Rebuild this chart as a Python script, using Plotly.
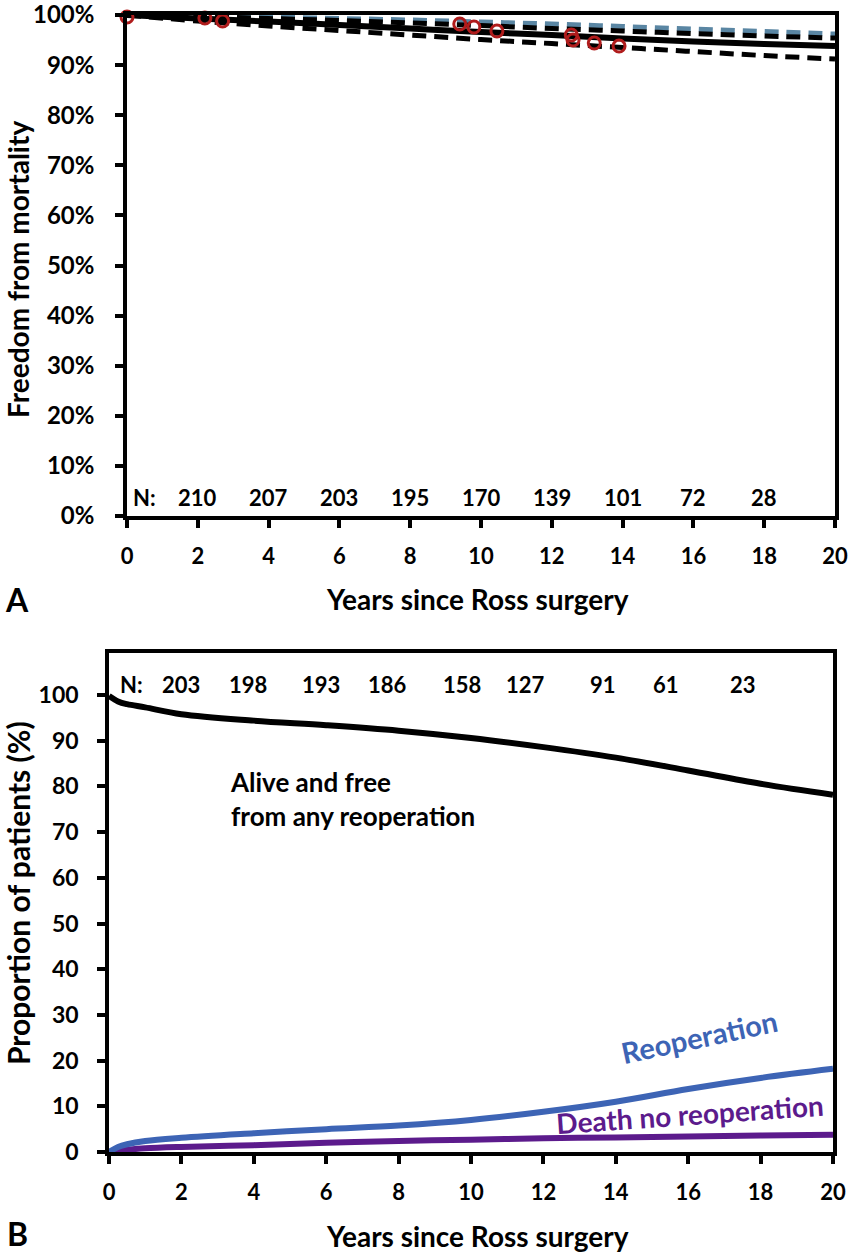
import plotly.graph_objects as go

W, H = 850, 1254
FONT = "Lato"

# ---------------- Panel A data ----------------
years_a = [0, 2, 4, 6, 8, 10, 12, 14, 16, 18, 20]
survival = [100, 99.3, 98.7, 98.0, 97.3, 96.6, 96.0, 95.3, 94.7, 94.2, 93.8]
ci_upper = [100, 99.7, 99.3, 98.9, 98.4, 97.9, 97.3, 96.8, 96.3, 95.8, 95.4]
ci_lower = [100, 98.8, 97.8, 96.9, 96.0, 95.1, 94.3, 93.5, 92.7, 91.9, 91.2]
general_pop = [100, 99.8, 99.6, 99.3, 99.0, 98.6, 98.2, 97.7, 97.2, 96.7, 96.2]
event_years = [0, 2.2, 2.7, 9.4, 9.8, 10.45, 12.55, 12.6, 13.2, 13.9]
event_surv = [99.6, 99.4, 98.8, 98.2, 97.6, 96.8, 96.0, 95.0, 94.4, 93.8]
n_years_a = [2, 4, 6, 8, 10, 12, 14, 16, 18]
n_at_risk_a = [210, 207, 203, 195, 170, 139, 101, 72, 28]
y_ticks_a = list(range(0, 101, 10))
y_ticklabels_a = [f"{v}%" for v in y_ticks_a]

# ---------------- Panel B data ----------------
years_b = [0, 0.25, 0.5, 1, 2, 4, 6, 8, 10, 12, 14, 16, 18, 20]
alive_free = [99.8, 98.6, 98.0, 97.3, 95.8, 94.4, 93.4, 92.2, 90.6, 88.6, 86.3, 83.5, 80.6, 78.2]
reoperation = [0, 1.1, 1.7, 2.4, 3.1, 4.1, 5.0, 5.8, 7.0, 8.8, 11.0, 13.8, 16.2, 18.2]
death_no_reop = [0, 0.3, 0.5, 0.8, 1.1, 1.5, 2.0, 2.4, 2.7, 3.0, 3.2, 3.4, 3.6, 3.8]
n_years_b = [1.98, 3.85, 5.85, 7.7, 9.75, 11.5, 13.65, 15.4, 17.5]
n_at_risk_b = [203, 198, 193, 186, 158, 127, 91, 61, 23]
y_ticks_b = list(range(0, 101, 10))

x_ticks = list(range(0, 21, 2))


def px_x(p):
    return p / W


def px_y(p):
    return 1 - p / H


fig = go.Figure()

DASH = "14px,8px"
# Panel A traces
fig.add_trace(go.Scatter(x=years_a, y=general_pop, mode="lines", line=dict(color="#5a86a3", width=5, dash=DASH, shape="spline"),
                         xaxis="x", yaxis="y", showlegend=False, cliponaxis=False))
fig.add_trace(go.Scatter(x=years_a, y=ci_upper, mode="lines", line=dict(color="black", width=5, dash=DASH, shape="spline"),
                         xaxis="x", yaxis="y", showlegend=False, cliponaxis=False))
fig.add_trace(go.Scatter(x=years_a, y=ci_lower, mode="lines", line=dict(color="black", width=5, dash=DASH, shape="spline"),
                         xaxis="x", yaxis="y", showlegend=False, cliponaxis=False))
fig.add_trace(go.Scatter(x=years_a, y=survival, mode="lines", line=dict(color="black", width=6, shape="spline"),
                         xaxis="x", yaxis="y", showlegend=False, cliponaxis=False))
fig.add_trace(go.Scatter(x=event_years, y=event_surv, mode="markers",
                         marker=dict(symbol="circle-open", size=12, color="#b01c1c", line=dict(width=3, color="#b01c1c")),
                         xaxis="x", yaxis="y", showlegend=False, cliponaxis=False))

# Panel B traces
fig.add_trace(go.Scatter(x=years_b, y=death_no_reop, mode="lines", line=dict(color="#5c1b8c", width=6, shape="spline"),
                         xaxis="x2", yaxis="y2", showlegend=False, cliponaxis=False))
fig.add_trace(go.Scatter(x=years_b, y=reoperation, mode="lines", line=dict(color="#3d64b5", width=6, shape="spline"),
                         xaxis="x2", yaxis="y2", showlegend=False, cliponaxis=False))
fig.add_trace(go.Scatter(x=years_b, y=alive_free, mode="lines", line=dict(color="black", width=6, shape="spline"),
                         xaxis="x2", yaxis="y2", showlegend=False, cliponaxis=False))

axis_common = dict(showline=True, linecolor="black", linewidth=3.5, mirror=True, ticks="outside",
                   ticklen=8, tickwidth=3.5, tickcolor="black", showgrid=False, zeroline=False,
                   automargin=False, ticklabeloverflow="allow")
x_tick_font = dict(family=FONT, size=22, color="black", weight="bold")
ya_tick_font = dict(family=FONT, size=24, color="black", weight="bold")
yb_tick_font = dict(family=FONT, size=23, color="black", weight="bold")

fig.update_layout(
    width=W, height=H,
    margin=dict(l=0, r=0, t=0, b=0),
    paper_bgcolor="white", plot_bgcolor="white",
    showlegend=False,
    xaxis=dict(domain=[px_x(127), px_x(835)], range=[0, 20], tickmode="array", tickvals=x_ticks,
               ticktext=[str(v) for v in x_ticks], anchor="y", tickfont=x_tick_font,
               ticklabelstandoff=10, **axis_common),
    yaxis=dict(domain=[px_y(516), px_y(15)], range=[0, 100], tickmode="array", tickvals=y_ticks_a,
               ticktext=y_ticklabels_a, anchor="x", tickfont=ya_tick_font, ticklabelstandoff=16, **axis_common),
    xaxis2=dict(domain=[px_x(109), px_x(833)], range=[0, 20], tickmode="array", tickvals=x_ticks,
                ticktext=[str(v) for v in x_ticks], anchor="y2", tickfont=x_tick_font,
                ticklabelstandoff=10, **axis_common),
    yaxis2=dict(domain=[px_y(1152), px_y(653)], range=[0, 109.2], tickmode="array", tickvals=y_ticks_b,
                ticktext=[str(v) for v in y_ticks_b], anchor="x2", tickfont=yb_tick_font,
                ticklabelstandoff=14, **axis_common),
)

annots = []
n_font = dict(family=FONT, size=22, color="black", weight="bold")
# N at risk labels panel A
annots.append(dict(x=0.1, y=3.6, xref="x", yref="y", text="N:", showarrow=False, xanchor="left", yanchor="middle",
                   font=n_font))
for xv, n in zip(n_years_a, n_at_risk_a):
    annots.append(dict(x=xv, y=3.6, xref="x", yref="y", text=str(n), showarrow=False, xanchor="center",
                       yanchor="middle", font=n_font))
# N at risk labels panel B
annots.append(dict(x=0.25, y=102.3, xref="x2", yref="y2", text="N:", showarrow=False, xanchor="left", yanchor="middle",
                   font=n_font))
for xv, n in zip(n_years_b, n_at_risk_b):
    annots.append(dict(x=xv, y=102.3, xref="x2", yref="y2", text=str(n), showarrow=False, xanchor="center",
                       yanchor="middle", font=n_font))

# curve labels panel B
annots.append(dict(x=3.3, y=77.3, xref="x2", yref="y2", text="Alive and free<br>from any reoperation",
                   showarrow=False, xanchor="left", yanchor="middle", align="left",
                   font=dict(family=FONT, size=26, color="black", weight="bold")))
annots.append(dict(x=16.3, y=25.2, xref="x2", yref="y2", text="Reoperation", showarrow=False, textangle=-12,
                   xanchor="center", yanchor="middle",
                   font=dict(family=FONT, size=29, color="#3d64b5", weight="bold")))
annots.append(dict(x=16.05, y=8.3, xref="x2", yref="y2", text="Death no reoperation", showarrow=False, textangle=-4,
                   xanchor="center", yanchor="middle",
                   font=dict(family=FONT, size=28, color="#5c1b8c", weight="bold")))

# axis titles
title_font = dict(family=FONT, size=28, color="black", weight="bold")
annots.append(dict(x=px_x(477), y=px_y(599), xref="paper", yref="paper", text="Years since Ross surgery",
                   showarrow=False, xanchor="center", yanchor="middle", font=title_font))
annots.append(dict(x=px_x(477), y=px_y(1236), xref="paper", yref="paper", text="Years since Ross surgery",
                   showarrow=False, xanchor="center", yanchor="middle", font=title_font))
annots.append(dict(x=px_x(18), y=px_y(270), xref="paper", yref="paper", text="Freedom from mortality",
                   showarrow=False, textangle=-90, xanchor="center", yanchor="middle", font=title_font))
annots.append(dict(x=px_x(18), y=px_y(893), xref="paper", yref="paper", text="Proportion of patients (%)",
                   showarrow=False, textangle=-90, xanchor="center", yanchor="middle",
                   font=dict(family=FONT, size=30, color="black", weight="bold")))
# panel letters
annots.append(dict(x=px_x(17), y=px_y(599), xref="paper", yref="paper", text="A", showarrow=False,
                   xanchor="center", yanchor="middle",
                   font=dict(family=FONT, size=32, color="black", weight="bold")))
annots.append(dict(x=px_x(17), y=px_y(1233), xref="paper", yref="paper", text="B", showarrow=False,
                   xanchor="center", yanchor="middle",
                   font=dict(family=FONT, size=32, color="black", weight="bold")))

fig.update_layout(annotations=annots)

# remove the default page margin so the 850x1254 figure fills the window exactly
fig.write_html("out.html", config={"displayModeBar": False},
               post_script="document.body.style.margin='0';document.body.style.overflow='hidden';")
